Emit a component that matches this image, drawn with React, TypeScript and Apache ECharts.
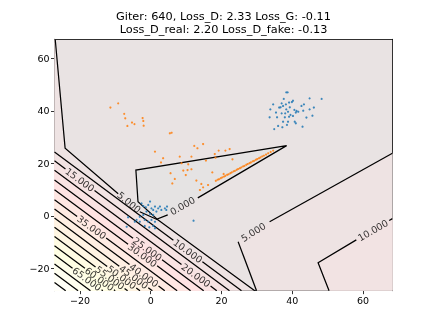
import React, { useEffect, useRef } from 'react';
import * as echarts from 'echarts';

const xRange = [-27.2, 68.3];
const yRange = [-28.46, 67.3];
const xTicks = [-20, 0, 20, 40, 60];
const yTicks = [-20, 0, 20, 40, 60];
const titleLines = ['Giter: 640, Loss_D: 2.33 Loss_G: -0.11', 'Loss_D_real: 2.20 Loss_D_fake: -0.13'];

// contour level 0 (closed, broken at its label)
const contour0 = [
  [[4.8, 0.4], [1.8, -1.2], [-3.6, 5.4], [-4.2, 17.5], [38.4, 26.8], [13.3, 6.9]],
];
// contour level 5: left piece (two parts around label) and right piece
const contour5 = [
  [[-27.0, 67.3], [-24.2, 25.8], [-9.2, 8.5]],
  [[-3.1, 1.6], [2.1, -1.5], [29.4, -28.46]],
  [[68.3, 23.9], [33.6, -2.2]],
  [[24.7, -9.8], [29.9, -28.46]],
];
// contour level 10, right piece
const contour10Right = [
  [[68.3, -1.0], [67.4, -1.7]],
  [[58.1, -9.1], [47.3, -17.8], [50.4, -28.46]],
];
// lower-left parallel contour lines: level, start (left edge), end (bottom edge), label gap (or none)
const llLevels = [10, 15, 20, 25, 30, 35, 40, 45, 50, 55, 60, 65, 70, 75, 80];
const llStart = [
  [-27.2, 24.4], [-27.2, 21.0], [-27.2, 17.4], [-27.2, 13.7], [-27.2, 10.0], [-27.2, 6.2], [-27.2, 2.7], [-27.2, -0.8],
  [-27.2, -4.3], [-27.2, -7.8], [-27.2, -11.3], [-27.2, -14.8], [-27.2, -18.3], [-27.2, -21.8], [-27.2, -25.3],
];
const llEnd = [
  [25.66, -28.46], [22.26, -28.46], [18.66, -28.46], [14.96, -28.46], [11.26, -28.46], [7.46, -28.46], [3.96, -28.46], [0.46, -28.46],
  [-3.04, -28.46], [-6.54, -28.46], [-10.04, -28.46], [-13.54, -28.46], [-17.04, -28.46], [-20.54, -28.46], [-24.04, -28.46],
];
const llGapA = [
  [6.4, -9.2], [-24.1, 17.9], [8.7, -18.5], [-5.0, -8.5], [-6.4, -10.8], [-20.8, -0.2], [-6.0, -18.5], [-8.9, -19.1],
  [-12.3, -19.2], [-15.6, -19.4], [-18.6, -19.9], [-22.1, -19.9], null, null, null,
];
const llGapB = [
  [14.6, -17.4], [-15.9, 9.7], [16.9, -26.7], [3.2, -16.7], [1.8, -19.0], [-12.6, -8.4], [2.2, -26.7], [-0.7, -27.3],
  [-4.1, -27.4], [-7.4, -27.6], [-10.4, -28.1], [-13.9, -28.1], null, null, null,
];

// contour labels
const labelText = ['0.000', '5.000', '5.000', '10.000', '10.000', '15.000', '20.000', '25.000', '30.000', '35.000',
  '40.000', '45.000', '50.000', '55.000', '60.000', '65.000'];
const labelPos = [
  [8.95, 3.9], [-6.1, 5.2], [29.0, -6.1], [62.8, -5.4], [10.5, -13.3], [-20.0, 13.8], [12.8, -22.6], [-0.9, -12.6],
  [-2.3, -14.9], [-16.7, -4.3], [-1.9, -22.6], [-4.8, -23.2], [-8.2, -23.3], [-11.5, -23.5], [-14.5, -24.0], [-18.0, -24.0],
];
const labelAngle = [30, -40, 32, 30, -36, -36, -36, -36, -36, -36, -36, -36, -36, -36, -36, -36];

// filled regions: triangle (<0), right bands
const triangleRegion = [[-4.2, 17.5], [38.4, 26.8], [1.8, -1.2], [-3.6, 5.4]];
const left5Region = [[-27.2, 67.3], [-27.0, 67.3], [-24.2, 25.8], [-9.2, 8.5], [-3.1, 1.6], [2.1, -1.5], [29.4, -28.46], [-27.2, -28.46]];
const right5Region = [[68.3, 23.9], [33.6, -2.2], [24.7, -9.8], [29.9, -28.46], [68.3, -28.46]];
const right10Region = [[68.3, -1.0], [58.1, -9.1], [47.3, -17.8], [50.4, -28.46], [68.3, -28.46]];

// real samples (blue)
const realX = [38.3, 38.7, 44.9, 48.3, 34.6, 37.6, 37.0, 37.4, 38.2, 39.1, 39.9, 40.2, 36.3, 35.4, 37.0, 38.0, 38.8, 38.3, 39.5, 40.6,
  41.2, 41.0, 41.7, 43.1, 42.6, 43.3, 44.9, 46.1, 33.8, 33.6, 35.7, 37.9, 39.1, 40.2, 44.0, 45.7, 37.4, 38.8, 40.7, 41.0,
  36.0, 38.5, 42.9, 34.9, 37.2, 36.7, 39.3,
  -2.6, -2.1, -1.4, -0.7, -0.2, 0.2, 0.7, 1.2, -1.2, -0.2, 0.7, 1.6, 2.1, 2.6, 3.0, 4.0, 4.4, 4.6, -2.1, -3.1,
  -4.0, -4.5, -3.1, -1.7, -0.7, 0.2, 1.2, 0.7, -0.4, 1.2, -1.7, -6.4, -6.8, 12.1];
const realY = [47.1, 47.1, 44.8, 44.6, 42.5, 44.6, 42.9, 41.9, 42.5, 43.2, 43.4, 43.9, 41.3, 39.4, 39.1, 39.1, 39.7, 40.6, 38.5, 40.4,
  40.0, 39.4, 39.7, 40.1, 41.9, 42.5, 40.6, 41.3, 40.6, 37.6, 37.6, 37.6, 37.8, 38.1, 37.5, 38.2, 35.9, 35.9, 35.9, 35.3,
  34.3, 34.7, 34.0, 33.1, 33.8, 41.4, 41.4,
  4.8, 3.8, 3.3, 4.2, 5.5, 2.9, 2.3, 3.6, 1.7, 0.8, 0.4, 1.7, 2.9, 3.6, 2.3, 2.9, 2.3, 3.6, 0.4, -0.3,
  -1.5, -2.2, -2.2, -1.5, -2.2, -1.5, -2.2, -3.8, -4.3, -4.7, -3.8, -0.5, -4.1, -1.8];

// generated samples (orange)
const fakeX = [-11.4, -9.2, -7.5, -7.2, -6.6, -5.3, -4.6, -2.3, -2.1, -2.0, 5.4, 5.9, 1.2, 3.5, 2.9, 8.2, 11.5, 12.3, 13.2, 14.8,
  15.6, 18.1, 18.3, 19.2, 21.1, 22.3, 8.7, 10.6, 5.6, 6.8, 9.2, 9.9, 10.4, 11.5, 12.9, 14.3, 16.2, 13.9, 14.8, 17.4,
  23.1, 6.1, 20.6,
  18.4, 18.9, 19.3, 19.8, 20.2, 20.7, 21.1, 21.6, 22.0, 22.5, 22.9, 23.4, 23.8, 24.3, 24.7, 25.2, 25.6, 26.1, 26.5, 27.0,
  27.4, 27.9, 28.3, 28.8, 29.2, 29.7, 30.1, 30.6, 31.0, 31.5, 32.0, 32.6, 33.2, 33.9, 34.6];
const fakeY = [41.3, 42.9, 38.9, 37.2, 34.3, 35.6, 35.0, 37.3, 36.2, 34.4, 31.5, 31.7, 24.5, 22.0, 20.4, 22.6, 22.6, 26.7, 25.8, 27.4,
  21.1, 23.6, 22.2, 24.9, 24.9, 25.5, 20.1, 19.7, 16.3, 14.1, 17.3, 15.6, 17.5, 17.8, 13.5, 12.2, 11.8, 9.9, 10.9, 16.6,
  21.6, 12.4, 16.0,
  13.4, 13.8, 14.0, 14.4, 14.7, 15.0, 15.3, 15.7, 15.9, 16.3, 16.6, 17.0, 17.2, 17.6, 17.9, 18.2, 18.5, 18.9, 19.1, 19.5,
  19.8, 20.1, 20.4, 20.8, 21.0, 21.4, 21.7, 22.0, 22.3, 22.7, 23.0, 23.4, 23.9, 24.4, 24.9];

// style helper: matplotlib "hot" colormap blended with alpha on white
function hotColor(level: number): string {
  const t = Math.max(0, Math.min(1, (level + 2.5 + 5) / 90));
  const r = Math.min(1, t / 0.365);
  const g = Math.max(0, Math.min(1, (t - 0.365) / 0.375));
  const b = Math.max(0, Math.min(1, (t - 0.74) / 0.26));
  const a = 0.11;
  const f = (c: number) => Math.round(255 * (1 - a + a * c));
  return `rgb(${f(r)},${f(g)},${f(b)})`;
}

export default function App() {
  const ref = useRef<HTMLDivElement>(null);
  useEffect(() => {
    if (!ref.current) return;
    const chart = echarts.init(ref.current, null, { renderer: 'svg' });

    const regions: number[][][] = [];
    const regionColors: string[] = [];
    regions.push(left5Region); regionColors.push(hotColor(5));
    regions.push(right5Region); regionColors.push(hotColor(5));
    regions.push(right10Region); regionColors.push(hotColor(10));
    llLevels.forEach((lv, i) => {
      regions.push([llStart[i], llEnd[i], [xRange[0], yRange[0]]]);
      regionColors.push(hotColor(lv));
    });
    regions.push(triangleRegion); regionColors.push(hotColor(-5));

    const lineSegs: number[][][] = [...contour0, ...contour5, ...contour10Right];
    llLevels.forEach((_, i) => {
      if (llGapA[i]) {
        lineSegs.push([llStart[i], llGapA[i] as number[]]);
        lineSegs.push([llGapB[i] as number[], llEnd[i]]);
      } else {
        lineSegs.push([llStart[i], llEnd[i]]);
      }
    });

    const font = 'DejaVu Sans';
    const fmt = (v: number) => String(v).replace('-', '\u2212');

    chart.setOption({
      animation: false,
      grid: { left: 54.5, right: 43.6, top: 39.3, bottom: 36.3, show: true, backgroundColor: hotColor(0), borderWidth: 0 },
      graphic: [{
        type: 'text', x: 223.5, y: 10.5,
        style: { text: titleLines.join('\n'), align: 'center', verticalAlign: 'top', font: `11.3px "${font}"`, fill: '#000', lineHeight: 12.5 },
      }],
      xAxis: [{
        type: 'value', min: xRange[0], max: xRange[1], splitLine: { show: false },
        axisLine: { onZero: false, lineStyle: { color: '#000', width: 0.8 } },
        axisTick: { length: 3.5, lineStyle: { color: '#000', width: 0.8 }, customValues: xTicks },
        axisLabel: { margin: 5, color: '#000', fontSize: 9.5, fontFamily: font, formatter: fmt, customValues: xTicks },
      }, {
        type: 'value', position: 'top', min: xRange[0], max: xRange[1], splitLine: { show: false },
        axisLine: { onZero: false, lineStyle: { color: '#000', width: 0.8 } }, axisTick: { show: false }, axisLabel: { show: false },
      }],
      yAxis: [{
        type: 'value', min: yRange[0], max: yRange[1], splitLine: { show: false },
        axisLine: { show: true, onZero: false, lineStyle: { color: '#000', width: 0.8 } },
        axisTick: { show: true, length: 3.5, lineStyle: { color: '#000', width: 0.8 }, customValues: yTicks },
        axisLabel: { margin: 5, color: '#000', fontSize: 9.5, fontFamily: font, formatter: fmt, customValues: yTicks },
      }, {
        type: 'value', position: 'right', min: yRange[0], max: yRange[1], splitLine: { show: false },
        axisLine: { show: true, onZero: false, lineStyle: { color: '#000', width: 0.8 } }, axisTick: { show: false }, axisLabel: { show: false },
      }],
      series: [
        {
          type: 'custom', coordinateSystem: 'cartesian2d', clip: true, z: 1, silent: true,
          data: regions.map((p) => p[0]),
          renderItem: (params: any, api: any) => ({
            type: 'polygon',
            shape: { points: regions[params.dataIndex].map((p) => api.coord(p)) },
            style: { fill: regionColors[params.dataIndex], stroke: regionColors[params.dataIndex], lineWidth: 0.5 },
          }),
        },
        {
          type: 'lines', coordinateSystem: 'cartesian2d', polyline: true, z: 2, silent: true,
          lineStyle: { color: '#000', width: 1.25, opacity: 1 },
          data: lineSegs.map((c) => ({ coords: c })),
        },
        {
          type: 'scatter', z: 3, symbolSize: 2.2, silent: true,
          itemStyle: { color: '#1f77b4', opacity: 0.85 },
          data: realX.map((x, i) => [x, realY[i]]),
        },
        {
          type: 'scatter', z: 3, symbolSize: 2.2, silent: true,
          itemStyle: { color: '#ff7f0e', opacity: 0.85 },
          data: fakeX.map((x, i) => [x, fakeY[i]]),
        },
        {
          type: 'scatter', z: 4, symbolSize: 0, silent: true,
          label: { show: true, position: 'inside', color: '#000', fontSize: 9.5, fontFamily: font, formatter: (p: any) => p.name },
          data: labelText.map((t, i) => ({ name: t, value: labelPos[i], label: { rotate: labelAngle[i] } })),
        },
      ],
    });
    return () => chart.dispose();
  }, []);
  return <div ref={ref} style={{ position: 'fixed', left: 0, top: 0, width: 436, height: 327 }} />;
}
